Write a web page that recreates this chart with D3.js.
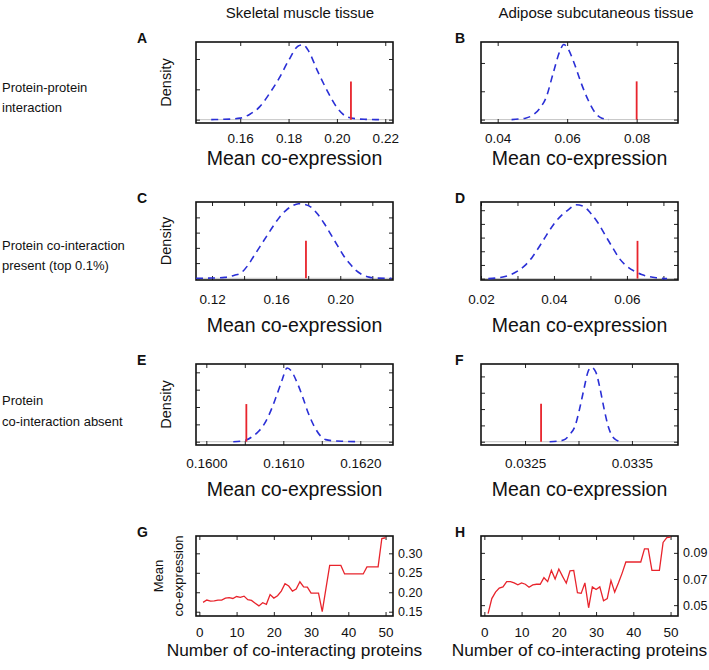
<!DOCTYPE html>
<html><head><meta charset="utf-8">
<script src="https://cdn.jsdelivr.net/npm/d3@7"></script>
<style>
body{margin:0;background:#fff}
svg{font-family:"Liberation Sans",Arial,Helvetica,sans-serif}
</style>
</head><body>
<svg id="chart" width="709" height="670"></svg>
<script>
// ---------------- DATA ----------------
const colTitles = ["Skeletal muscle tissue", "Adipose subcutaneous tissue"];
const rowLabels = [["Protein-protein", "interaction"], ["Protein co-interaction", "present (top 0.1%)"], ["Protein", "co-interaction absent"]];
const panelLetters = ["A", "B", "C", "D", "E", "F", "G", "H"];
const xLabelDensity = "Mean co-expression";
const yLabelDensity = "Density";
const xLabelCount = "Number of co-interacting proteins";
const yLabelCount = ["Mean", "co-expression"];

// null-distribution densities [mean co-expression, density (arbitrary units)]
const curveA = [[0.148,0],[0.152,0.01],[0.156,0.02],[0.160,0.05],[0.164,0.18],[0.168,0.42],[0.172,0.85],[0.176,1.35],[0.180,1.95],[0.184,2.43],[0.186,2.47],[0.188,2.3],[0.192,1.6],[0.196,0.95],[0.200,0.40],[0.204,0.10],[0.208,0.03],[0.212,0.01],[0.218,0]];
const curveB = [[0.044,0],[0.046,0.02],[0.048,0.05],[0.050,0.15],[0.052,0.38],[0.054,0.80],[0.056,1.65],[0.058,2.45],[0.059,2.65],[0.060,2.55],[0.062,2.0],[0.064,1.3],[0.066,0.7],[0.068,0.25],[0.070,0.05],[0.072,0]];
const curveC = [[0.110,0],[0.120,0.02],[0.128,0.06],[0.134,0.2],[0.138,0.35],[0.142,0.8],[0.146,1.45],[0.150,2.1],[0.154,2.75],[0.158,3.4],[0.162,4.0],[0.166,4.45],[0.170,4.75],[0.174,4.9],[0.178,4.85],[0.182,4.65],[0.186,4.2],[0.190,3.6],[0.194,2.9],[0.198,2.2],[0.202,1.5],[0.206,0.95],[0.210,0.5],[0.214,0.22],[0.218,0.08],[0.222,0.02],[0.232,0]];
const curveD = [[0.022,0],[0.026,0.12],[0.030,0.55],[0.032,0.95],[0.034,1.55],[0.036,2.35],[0.038,3.2],[0.040,4.0],[0.042,4.6],[0.044,5.05],[0.046,5.4],[0.048,5.3],[0.050,4.8],[0.052,4.1],[0.054,3.2],[0.056,2.3],[0.058,1.45],[0.060,0.9],[0.062,0.55],[0.064,0.3],[0.066,0.15],[0.068,0.06],[0.071,0]];
const curveE = [[0.16035,0],[0.16045,0.03],[0.16052,0.1],[0.16060,0.3],[0.16068,0.6],[0.16075,1.0],[0.16082,1.6],[0.16090,2.5],[0.16098,3.5],[0.16105,4.25],[0.16110,4.1],[0.16118,3.4],[0.16125,2.6],[0.16132,1.7],[0.16140,0.9],[0.16148,0.35],[0.16155,0.12],[0.16165,0.05],[0.16180,0.02],[0.16195,0]];
const curveF = [[0.03273,0],[0.03280,0.03],[0.03286,0.1],[0.03292,0.45],[0.03297,1.0],[0.03301,2.0],[0.03305,3.2],[0.03309,4.3],[0.03312,4.55],[0.03316,4.3],[0.03320,3.3],[0.03324,2.0],[0.03328,0.9],[0.03332,0.3],[0.03336,0.08],[0.03340,0]];

// observed values (red bars) and their drawn heights
const observedX = [0.2058, 0.0800, 0.1786, 0.0629, 0.16052, 0.03265];
const observedH = [1.26, 1.35, 2.46, 2.76, 2.17, 2.32];

// x tick values and labelled ticks
const xTicksA = [0.16, 0.18, 0.20, 0.22], xLabA = [0.16, 0.18, 0.20, 0.22];
const xTicksB = [0.04, 0.06, 0.08], xLabB = [0.04, 0.06, 0.08];
const xTicksC = [0.12, 0.14, 0.16, 0.18, 0.20, 0.22], xLabC = [0.12, 0.16, 0.20];
const xTicksD = [0.02, 0.03, 0.04, 0.05, 0.06, 0.07], xLabD = [0.02, 0.04, 0.06];
const xTicksE = [0.1600, 0.1605, 0.1610, 0.1615, 0.1620], xLabE = [0.1600, 0.1610, 0.1620];
const xTicksF = [0.0325, 0.0330, 0.0335], xLabF = [0.0325, 0.0335];
const yTicksA = [0, 1, 2], yTicksB = [0, 1, 2], yTicksC = [0, 1, 2, 3, 4], yTicksD = [0, 1, 2, 3, 4, 5], yTicksE = [0, 1, 2, 3, 4], yTicksF = [0, 1, 2, 3, 4];

// G, H: mean co-expression vs number of co-interacting proteins
const nProteins = d3.range(1, 51);
const meanG = [0.174,0.180,0.177,0.178,0.180,0.180,0.185,0.186,0.184,0.189,0.187,0.190,0.181,0.179,0.172,0.165,0.173,0.169,0.194,0.185,0.191,0.203,0.222,0.216,0.203,0.208,0.227,0.214,0.213,0.198,0.198,0.198,0.150,0.210,0.269,0.269,0.269,0.269,0.247,0.247,0.247,0.247,0.247,0.247,0.265,0.265,0.265,0.265,0.338,0.340];
const meanH = [0.0435,0.055,0.060,0.063,0.064,0.068,0.068,0.067,0.0655,0.067,0.066,0.0637,0.0655,0.066,0.066,0.071,0.068,0.0766,0.070,0.0776,0.072,0.0668,0.0763,0.0766,0.0595,0.059,0.067,0.048,0.064,0.062,0.064,0.0534,0.055,0.0688,0.060,0.067,0.0745,0.083,0.083,0.083,0.083,0.083,0.093,0.093,0.0766,0.0766,0.0766,0.098,0.1016,0.102];
const xTicksGH = [0, 10, 20, 30, 40, 50];
const yTicksG = [0.15, 0.20, 0.25, 0.30];
const yTicksH = [0.05, 0.07, 0.09];

// ---------------- LAYOUT ----------------
const cols = [[196, 393], [481, 678]];
const rows = [[42, 123], [202, 280], [364, 445], [536, 616]];
const tickPad = [10, 14, 13, 11];
const titleY = [165, 332, 496, 656];

const densPanels = [
  {curve: curveA, xd: [0.1417, 0.2232], yd: [-0.11, 2.56], xt: xTicksA, xl: xLabA, yt: yTicksA, fmt: ".2f"},
  {curve: curveB, xd: [0.0352, 0.0919], yd: [-0.12, 2.74], xt: xTicksB, xl: xLabB, yt: yTicksB, fmt: ".2f"},
  {curve: curveC, xd: [0.1100, 0.2329], yd: [-0.11, 5.01], xt: xTicksC, xl: xLabC, yt: yTicksC, fmt: ".2f"},
  {curve: curveD, xd: [0.0200, 0.0740], yd: [-0.10, 5.60], xt: xTicksD, xl: xLabD, yt: yTicksD, fmt: ".2f"},
  {curve: curveE, xd: [0.159866, 0.162425], yd: [-0.19, 4.48], xt: xTicksE, xl: xLabE, yt: yTicksE, fmt: ".4f"},
  {curve: curveF, xd: [0.032088, 0.033931], yd: [-0.20, 4.76], xt: xTicksF, xl: xLabF, yt: yTicksF, fmt: ".4f"}
];

const svg = d3.select("#chart");
const BLUE = "#2a2fd6", RED = "#e8242c";

// column titles
colTitles.forEach((t, i) => {
  svg.append("text").attr("x", [300, 596][i]).attr("y", 18).attr("text-anchor", "middle")
    .attr("font-size", 15).attr("fill", "#111").text(t);
});
// row labels
const rowLabelY = [[92, 112], [250, 270], [405, 426]];
rowLabels.forEach((lines, r) => {
  lines.forEach((l, k) => svg.append("text").attr("x", 2).attr("y", rowLabelY[r][k])
    .attr("font-size", 13).attr("fill", "#111").text(l));
});

function inwardAxes(g, x, y, xt, yt, xlabFn, rightLabFn, pad) {
  const [x0, x1] = x.range(), [y1, y0] = y.range();
  g.append("g").attr("transform", `translate(0,${y1})`)
    .call(d3.axisBottom(x).tickValues(xt).tickSizeInner(-4).tickSizeOuter(0).tickPadding(pad).tickFormat(xlabFn))
    .call(a => a.select(".domain").remove());
  g.append("g").attr("transform", `translate(0,${y0})`)
    .call(d3.axisTop(x).tickValues(xt).tickSizeInner(-4).tickSizeOuter(0).tickFormat(""))
    .call(a => a.select(".domain").remove());
  g.append("g").attr("transform", `translate(${x0},0)`)
    .call(d3.axisLeft(y).tickValues(yt).tickSizeInner(-4).tickSizeOuter(0).tickFormat(""))
    .call(a => a.select(".domain").remove());
  g.append("g").attr("transform", `translate(${x1},0)`)
    .call(d3.axisRight(y).tickValues(yt).tickSizeInner(-4).tickSizeOuter(0).tickPadding(5).tickFormat(rightLabFn || ""))
    .call(a => a.select(".domain").remove());
  g.selectAll(".tick line").attr("stroke", "#222").attr("stroke-width", 1);
  g.selectAll(".tick text").attr("fill", "#111").attr("font-family", "Liberation Sans, Arial, sans-serif");
  g.append("rect").attr("x", x0).attr("y", y0).attr("width", x1 - x0).attr("height", y1 - y0)
    .attr("fill", "none").attr("stroke", "#111").attr("stroke-width", 1.6);
}

function letter(i, r, c) {
  svg.append("text").attr("x", [137, 455][c]).attr("y", rows[r][0] + 1)
    .attr("font-size", 14).attr("font-weight", "bold").attr("fill", "#111").text(panelLetters[i]);
}

densPanels.forEach((p, i) => {
  const r = Math.floor(i / 2), c = i % 2;
  const x = d3.scaleLinear().domain(p.xd).range(cols[c]);
  const y = d3.scaleLinear().domain(p.yd).range([rows[r][1], rows[r][0]]);
  const g = svg.append("g");
  // grey baseline
  g.append("line").attr("x1", cols[c][0]).attr("x2", cols[c][1]).attr("y1", y(0)).attr("y2", y(0))
    .attr("stroke", "#c4c4c4").attr("stroke-width", 1);
  const labSet = new Set(p.xl.map(v => v.toFixed(5)));
  const f = d3.format(p.fmt);
  inwardAxes(g, x, y, p.xt, p.yt, v => labSet.has(v.toFixed(5)) ? f(v) : "", null, tickPad[r]);
  g.selectAll(".tick text").attr("font-size", 13.5);
  // density curve
  g.append("path").datum(p.curve)
    .attr("d", d3.line().x(d => x(d[0])).y(d => y(d[1])).curve(d3.curveMonotoneX))
    .attr("fill", "none").attr("stroke", BLUE).attr("stroke-width", 1.6).attr("stroke-dasharray", "7,5");
  // observed value
  g.append("line").attr("x1", x(observedX[i])).attr("x2", x(observedX[i]))
    .attr("y1", y(0)).attr("y2", y(observedH[i])).attr("stroke", RED).attr("stroke-width", 1.8);
  // x label
  g.append("text").attr("x", (cols[c][0] + cols[c][1]) / 2).attr("y", titleY[r]).attr("text-anchor", "middle")
    .attr("font-size", 19.5).attr("fill", "#111").text(xLabelDensity);
  if (c === 0) {
    const cy = (rows[r][0] + rows[r][1]) / 2;
    g.append("text").attr("transform", `translate(171,${cy}) rotate(-90)`).attr("text-anchor", "middle")
      .attr("font-size", 14.5).attr("fill", "#111").text(yLabelDensity);
  }
  letter(i, r, c);
});

// G and H
[[meanG, [0.139, 0.3445], yTicksG], [meanH, [0.0417, 0.1029], yTicksH]].forEach(([vals, yd, yt], c) => {
  const r = 3;
  const x = d3.scaleLinear().domain([-0.9, 52]).range(cols[c]);
  const y = d3.scaleLinear().domain(yd).range([rows[r][1], rows[r][0]]);
  const g = svg.append("g");
  inwardAxes(g, x, y, xTicksGH, yt, d3.format("d"), d3.format(".2f"), tickPad[r]);
  g.selectAll(".tick text").attr("font-size", 13.5);
  g.selectAll("g:last-of-type .tick text");
  g.append("path").datum(nProteins.map((n, k) => [n, vals[k]]))
    .attr("d", d3.line().x(d => x(d[0])).y(d => y(d[1])))
    .attr("fill", "none").attr("stroke", RED).attr("stroke-width", 1.3);
  g.append("text").attr("x", (cols[c][0] + cols[c][1]) / 2).attr("y", titleY[r]).attr("text-anchor", "middle")
    .attr("font-size", 17.3).attr("fill", "#111").text(xLabelCount);
  if (c === 0) {
    const cy = (rows[r][0] + rows[r][1]) / 2;
    yLabelCount.forEach((l, k) => g.append("text").attr("transform", `translate(${163 + k * 20},${cy}) rotate(-90)`)
      .attr("text-anchor", "middle").attr("font-size", 13).attr("fill", "#111").text(l));
  }
  letter(6 + c, r, c);
});
// right-axis labels a bit smaller
svg.selectAll("g").filter(function(){ return this.getAttribute("transform") && /translate\((393|678),0\)/.test(this.getAttribute("transform")); })
  .selectAll(".tick text").attr("font-size", 12.5);
</script>
</body></html>
